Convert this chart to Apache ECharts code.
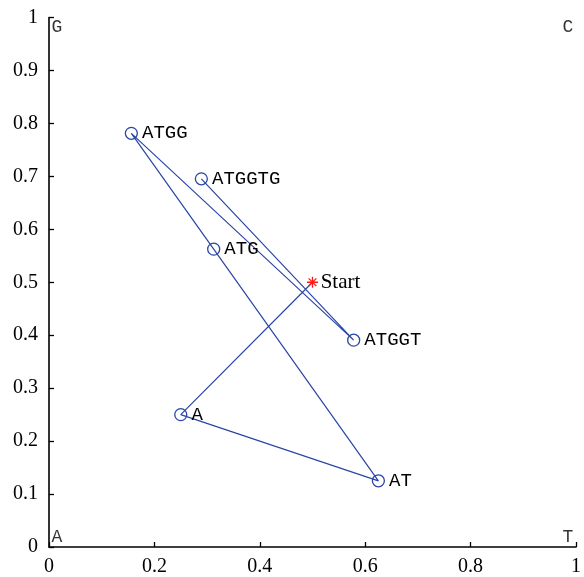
<!DOCTYPE html>
<html>
<head>
<meta charset="utf-8">
<script src="https://cdn.jsdelivr.net/npm/echarts@6/dist/echarts.min.js"></script>
<style>html,body{margin:0;padding:0;background:#fff}#c{width:584px;height:577px}</style>
</head>
<body>
<div id="c"></div>
<script>
// Sequence path (chaos game representation of "ATGGTG")
var pathLabels = ['Start', 'A', 'AT', 'ATG', 'ATGG', 'ATGGT', 'ATGGTG'];
var pathX = [0.5, 0.25, 0.625, 0.3125, 0.15625, 0.578125, 0.2890625];
var pathY = [0.5, 0.25, 0.125, 0.5625, 0.78125, 0.390625, 0.6953125];
// Corner nucleotides
var cornerLabels = ['A', 'T', 'G', 'C'];
var cornerX = [0, 1, 0, 1];
var cornerY = [0, 0, 1, 1];
var xTicks = [0, 0.2, 0.4, 0.6, 0.8, 1];
var yTicks = [0, 0.1, 0.2, 0.3, 0.4, 0.5, 0.6, 0.7, 0.8, 0.9, 1];

var BLUE = '#2946a6';
var RED = '#ff1a1a';
var MONO = '"Liberation Mono", "DejaVu Sans Mono", monospace';
var SERIF = '"Liberation Serif", "DejaVu Serif", serif';

var asterisk = 'path://M0,-5L0,5M-5,0L5,0M-3.54,-3.54L3.54,3.54M-3.54,3.54L3.54,-3.54';

var lineData = pathX.map(function (x, i) {
  var item = { value: [x, pathY[i]], name: pathLabels[i] };
  if (i === 0) {
    item.symbol = asterisk;
    item.symbolSize = 11;
    item.itemStyle = { color: 'transparent', borderColor: RED, borderWidth: 1.3 };
    item.label = { fontFamily: SERIF, fontSize: 21, distance: 2 };
  }
  return item;
});

var cornerOffsets = [[8, -10], [-8, -10], [8, 10], [-8, 10]];
var cornerData = cornerX.map(function (x, i) {
  return {
    value: [x, cornerY[i]],
    name: cornerLabels[i],
    label: { offset: cornerOffsets[i] }
  };
});

var chart = echarts.init(document.getElementById('c'));
chart.setOption({
  animation: false,
  backgroundColor: '#fff',
  grid: { left: 49, right: 3, top: 17.5, bottom: 30 },
  xAxis: {
    type: 'value', min: xTicks[0], max: xTicks[xTicks.length - 1], interval: 0.2,
    axisLine: { show: true, onZero: false, lineStyle: { color: '#000', width: 1.6 } },
    axisTick: { show: true, inside: true, length: 5, lineStyle: { color: '#000', width: 1.3 } },
    axisLabel: { color: '#000', fontFamily: SERIF, fontSize: 20, margin: 10, showMaxLabel: true },
    splitLine: { show: false }
  },
  yAxis: {
    type: 'value', min: yTicks[0], max: yTicks[yTicks.length - 1], interval: 0.1,
    axisLine: { show: true, onZero: false, lineStyle: { color: '#000', width: 1.6 } },
    axisTick: { show: true, inside: true, length: 5, lineStyle: { color: '#000', width: 1.3 } },
    axisLabel: { color: '#000', fontFamily: SERIF, fontSize: 20, margin: 11, showMaxLabel: true },
    splitLine: { show: false }
  },
  series: [
    {
      type: 'line',
      data: lineData,
      symbol: 'circle',
      symbolSize: 12,
      showAllSymbol: true,
      lineStyle: { color: BLUE, width: 1.2 },
      itemStyle: { color: 'transparent', borderColor: BLUE, borderWidth: 1.3 },
      label: {
        show: true, position: 'right', distance: 4,
        formatter: function (p) { return p.name; },
        color: '#000', fontFamily: MONO, fontSize: 19
      },
      emphasis: { disabled: true },
      z: 3
    },
    {
      type: 'scatter',
      data: cornerData,
      symbolSize: 1,
      itemStyle: { color: 'transparent' },
      label: {
        show: true, position: 'inside',
        formatter: function (p) { return p.name; },
        color: '#000', fontFamily: MONO, fontSize: 18
      },
      emphasis: { disabled: true },
      z: 2
    }
  ]
});
</script>
</body>
</html>
